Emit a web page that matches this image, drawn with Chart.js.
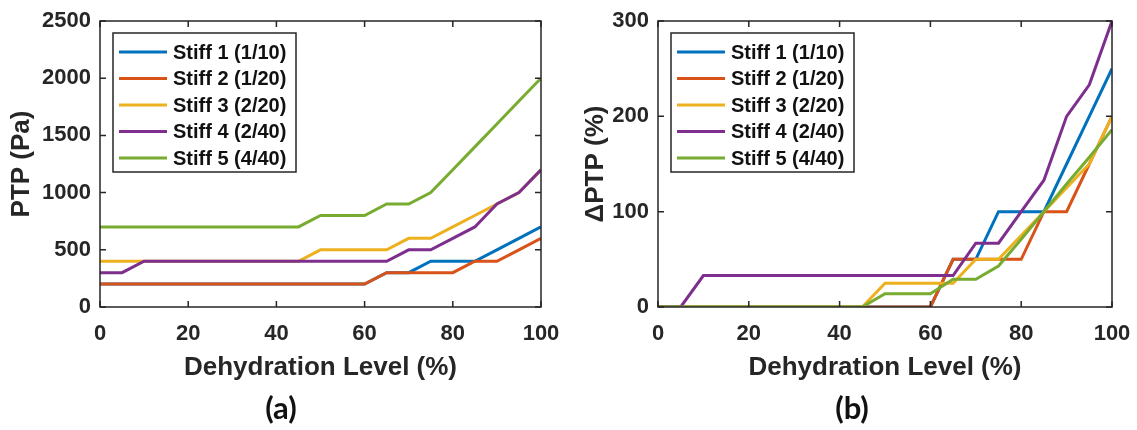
<!DOCTYPE html>
<html>
<head>
<meta charset="utf-8">
<script src="https://cdn.jsdelivr.net/npm/chart.js@4/dist/chart.umd.min.js"></script>
<style>
    html, body { margin: 0; padding: 0; background: #fff; }
    body { width: 1137px; height: 430px; position: relative; overflow: hidden; }
    .panel { position: absolute; top: 0; height: 390px; }
    .tag {
        position: absolute; top: 388px; width: 80px; text-align: center;
        font: bold 31px Lato, "Open Sans", sans-serif; color: #111;
    }
</style>
</head>
<body>
<div class="panel" style="left:0; width:560px;"><canvas id="chartA"></canvas></div>
<div class="panel" style="left:560px; width:577px;"><canvas id="chartB"></canvas></div>
<div class="tag" style="left:241px;">(a)</div>
<div class="tag" style="left:812px;">(b)</div>

<script>
// x positions (dehydration level, %)
const levels = [0, 5, 10, 15, 20, 25, 30, 35, 40, 45, 50, 55, 60, 65, 70, 75, 80, 85, 90, 95, 100];

const seriesNames = ['Stiff 1 (1/10)', 'Stiff 2 (1/20)', 'Stiff 3 (2/20)', 'Stiff 4 (2/40)', 'Stiff 5 (4/40)'];
const seriesColors = ['#0072BD', '#D95319', '#EDB120', '#7E2F8E', '#77AC30'];

// (a) PTP in Pa
const ptpStiff1 = [200, 200, 200, 200, 200, 200, 200, 200, 200, 200, 200, 200, 200, 300, 300, 400, 400, 400, 500, 600, 700];
const ptpStiff2 = [200, 200, 200, 200, 200, 200, 200, 200, 200, 200, 200, 200, 200, 300, 300, 300, 300, 400, 400, 500, 600];
const ptpStiff3 = [400, 400, 400, 400, 400, 400, 400, 400, 400, 400, 500, 500, 500, 500, 600, 600, 700, 800, 900, 1000, 1200];
const ptpStiff4 = [300, 300, 400, 400, 400, 400, 400, 400, 400, 400, 400, 400, 400, 400, 500, 500, 600, 700, 900, 1000, 1200];
const ptpStiff5 = [700, 700, 700, 700, 700, 700, 700, 700, 700, 700, 800, 800, 800, 900, 900, 1000, 1200, 1400, 1600, 1800, 2000];

// (b) change of PTP in %
const dptpStiff1 = [0, 0, 0, 0, 0, 0, 0, 0, 0, 0, 0, 0, 0, 50, 50, 100, 100, 100, 150, 200, 250];
const dptpStiff2 = [0, 0, 0, 0, 0, 0, 0, 0, 0, 0, 0, 0, 0, 50, 50, 50, 50, 100, 100, 150, 200];
const dptpStiff3 = [0, 0, 0, 0, 0, 0, 0, 0, 0, 0, 25, 25, 25, 25, 50, 50, 75, 100, 125, 150, 200];
const dptpStiff4 = [0, 0, 33, 33, 33, 33, 33, 33, 33, 33, 33, 33, 33, 33, 67, 67, 100, 133, 200, 233, 300];
const dptpStiff5 = [0, 0, 0, 0, 0, 0, 0, 0, 0, 0, 14, 14, 14, 29, 29, 43, 71, 100, 129, 157, 186];

const xTicks = [0, 20, 40, 60, 80, 100];
const yTicksA = [0, 500, 1000, 1500, 2000, 2500];
const yTicksB = [0, 100, 200, 300];

const INK = '#262626';
const FONT = '"Liberation Sans", Arial, sans-serif';

// MATLAB-style box with inward ticks on all four sides
const boxPlugin = {
    id: 'matlabBox',
    afterDatasetsDraw(chart) {
        const { ctx, chartArea: a, scales } = chart;
        const len = 6;
        ctx.save();
        ctx.strokeStyle = INK;
        ctx.lineWidth = 1.5;
        ctx.strokeRect(a.left, a.top, a.right - a.left, a.bottom - a.top);
        ctx.beginPath();
        scales.x.ticks.forEach(t => {
            const px = scales.x.getPixelForValue(t.value);
            ctx.moveTo(px, a.bottom); ctx.lineTo(px, a.bottom - len);
            ctx.moveTo(px, a.top); ctx.lineTo(px, a.top + len);
        });
        scales.y.ticks.forEach(t => {
            const py = scales.y.getPixelForValue(t.value);
            ctx.moveTo(a.left, py); ctx.lineTo(a.left + len, py);
            ctx.moveTo(a.right, py); ctx.lineTo(a.right - len, py);
        });
        ctx.stroke();
        ctx.restore();
    }
};

// legend box inside the upper-left corner of the axes
const insideLegend = {
    id: 'insideLegend',
    afterDatasetsDraw(chart) {
        const { ctx, chartArea: a } = chart;
        const x0 = a.left + 13, y0 = a.top + 12;
        const w = 183, h = 139, rowH = 26.5;
        ctx.save();
        ctx.fillStyle = '#fff';
        ctx.fillRect(x0, y0, w, h);
        ctx.strokeStyle = INK;
        ctx.lineWidth = 1.5;
        ctx.strokeRect(x0, y0, w, h);
        ctx.font = 'bold 20px ' + FONT;
        ctx.textBaseline = 'middle';
        chart.data.datasets.forEach((ds, i) => {
            const cy = y0 + 19 + i * rowH;
            ctx.strokeStyle = ds.borderColor;
            ctx.lineWidth = 3;
            ctx.beginPath();
            ctx.moveTo(x0 + 6, cy);
            ctx.lineTo(x0 + 54, cy);
            ctx.stroke();
            ctx.fillStyle = '#111';
            ctx.fillText(ds.label, x0 + 60, cy + 1);
        });
        ctx.restore();
    }
};

function makeChart(id, seriesList, yTicks, yTitle, opts) {
    const datasets = seriesList.map((vals, i) => ({
        label: seriesNames[i],
        data: levels.map((lv, j) => ({ x: lv, y: vals[j] })),
        borderColor: seriesColors[i],
        borderWidth: 3,
        pointRadius: 0,
        tension: 0,
        fill: false,
        order: seriesList.length - i   // later series drawn on top, like MATLAB
    }));

    return new Chart(document.getElementById(id), {
        type: 'line',
        data: { datasets },
        plugins: [boxPlugin, insideLegend],
        options: {
            responsive: true,
            maintainAspectRatio: false,
            animation: false,
            layout: { padding: { top: 21, right: opts.padRight, left: 0, bottom: 0 } },
            plugins: { legend: { display: false }, tooltip: { enabled: false } },
            scales: {
                x: {
                    type: 'linear',
                    min: 0, max: 100,
                    afterBuildTicks: s => { s.ticks = xTicks.map(v => ({ value: v })); },
                    afterFit: s => { s.height = 83; s.paddingLeft = 0; s.paddingRight = 0; },
                    grid: { display: false, drawTicks: false },
                    border: { display: false },
                    ticks: { color: INK, padding: 14, maxRotation: 0, callback: v => String(v), font: { family: FONT, size: 22, weight: 'bold' } },
                    title: {
                        display: true, text: 'Dehydration Level (%)', color: INK,
                        padding: { top: 0, bottom: 7 },
                        font: { family: FONT, size: 26, weight: 'bold' }
                    }
                },
                y: {
                    type: 'linear',
                    min: yTicks[0], max: yTicks[yTicks.length - 1],
                    afterBuildTicks: s => { s.ticks = yTicks.map(v => ({ value: v })); },
                    afterFit: s => { s.width = opts.yWidth; s.paddingTop = 0; s.paddingBottom = 0; },
                    grid: { display: false, drawTicks: false },
                    border: { display: false },
                    ticks: { color: INK, padding: 9, callback: v => String(v), font: { family: FONT, size: 22, weight: 'bold' } },
                    title: {
                        display: true, text: yTitle, color: INK,
                        padding: { top: opts.yTitlePad, bottom: 0 },
                        font: { family: FONT, size: 26, weight: 'bold' }
                    }
                }
            }
        }
    });
}

makeChart('chartA', [ptpStiff1, ptpStiff2, ptpStiff3, ptpStiff4, ptpStiff5], yTicksA, 'PTP (Pa)',
    { padRight: 19, yWidth: 100, yTitlePad: 6 });
makeChart('chartB', [dptpStiff1, dptpStiff2, dptpStiff3, dptpStiff4, dptpStiff5], yTicksB, '\u0394PTP (%)',
    { padRight: 25, yWidth: 98, yTitlePad: 20 });
</script>
</body>
</html>
